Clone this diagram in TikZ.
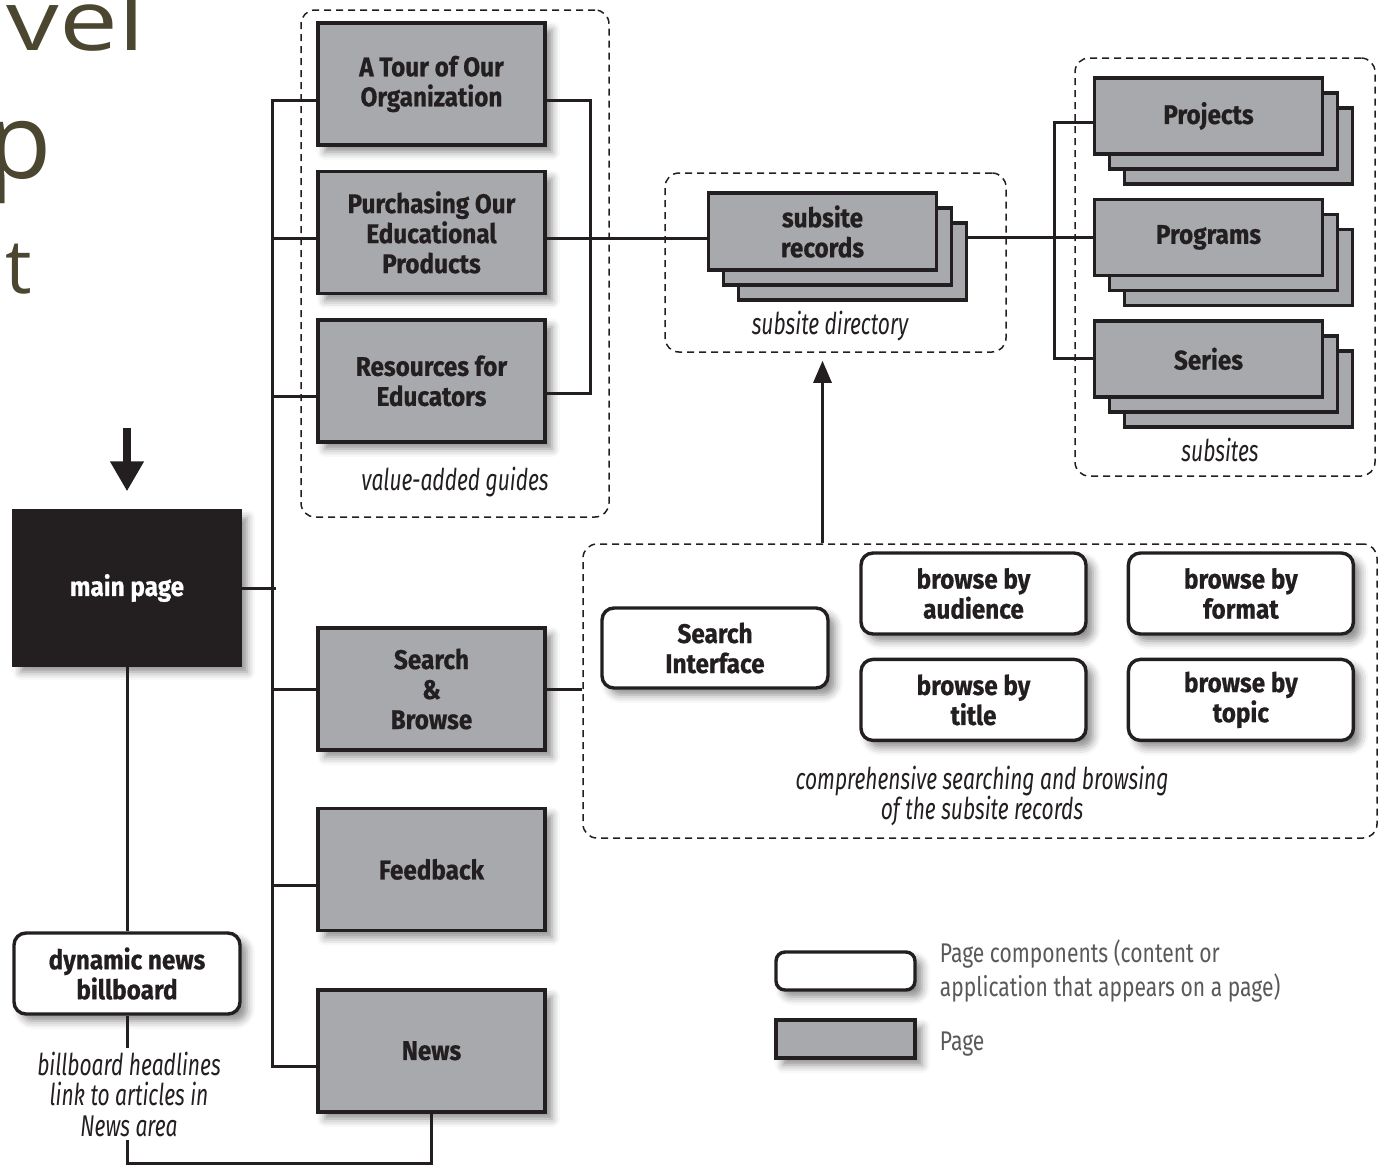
\documentclass[tikz,border=0pt]{standalone}
\usepackage{fontspec}
\setmainfont{Fira Sans}[FakeStretch=0.9,BoldFeatures={FakeBold=0.6}]
\newfontfamily\notefont{Fira Sans}[FakeStretch=0.7]
\newfontfamily\legendfont{Fira Sans}[FakeStretch=0.78]
\newfontfamily\slidefont{Open Sans}
\newfontfamily\slidewidefont{Open Sans}[FakeStretch=1.25]
\usetikzlibrary{positioning,shadows,shadows.blur,arrows.meta}
\definecolor{ink}{HTML}{231F20}
\definecolor{pagegray}{HTML}{A7A9AC}
\definecolor{olive}{HTML}{4B4630}
\definecolor{legendgray}{HTML}{58595B}

\begin{document}
\begin{tikzpicture}[x=1pt,y=-1pt,
  box/.style={draw=ink,line width=3.4pt,align=center,text=ink,
    font=\fontsize{27}{30}\selectfont\bfseries},
  soft/.style={blur shadow={shadow xshift=7pt,shadow yshift=-7pt,
    shadow blur radius=8pt,shadow opacity=45}},
  page/.style={box,soft,fill=pagegray,minimum width=227pt,minimum height=122pt},
  stack/.style={box,fill=pagegray,minimum width=228pt,minimum height=76pt,
    double copy shadow={shadow xshift=15pt,shadow yshift=-15pt}},
  comp/.style={box,soft,fill=white,rounded corners=12pt,
    minimum width=225pt,minimum height=81pt},
  group/.style={draw=ink,line width=1.5pt,dash pattern=on 7pt off 5pt,
    rounded corners=14pt},
  note/.style={font=\notefont\itshape\fontsize{30}{30.5}\selectfont,
    text=ink,align=center},
  link/.style={draw=ink,line width=3pt},
  legend text/.style={font=\legendfont\fontsize{27}{34}\selectfont,text=legendgray,
    align=left,inner sep=0pt},
  title bit/.style={text=olive,inner sep=0pt,anchor=base east}]

  \useasboundingbox (0,0) rectangle (1383,1171);
  \clip (0,0) rectangle (1383,1171);

  % leftovers of the slide title
  \node[title bit,font=\slidewidefont\fontsize{84}{84}\selectfont] (ttl1) at (145,50) {vel};
  \node[title bit,font=\slidefont\fontsize{105}{105}\selectfont] (ttl2) at (52,178) {p};
  \node[title bit,font=\slidefont\fontsize{75}{75}\selectfont] (ttl3) at (32,293) {t};

  % dashed groups
  \node[group,minimum width=308pt,minimum height=507pt] (guides) at (455,263.5) {};
  \node[group,minimum width=341pt,minimum height=179pt] (dirbox) at (835.5,262.5) {};
  \node[group,minimum width=300pt,minimum height=418pt] (sitebox) at (1225,267) {};
  \node[group,minimum width=794pt,minimum height=294pt] (compbox) at (980,691) {};

  % main page and billboard
  \node[box,soft,fill=ink,text=white,minimum width=226pt,minimum height=154pt]
    (main) at (127,588) {main page};
  \node[comp,minimum width=226pt] (billboard) at (127,973.5) {dynamic news\\billboard};
  \node[note] (headlines) at (129,1094) {billboard headlines\\link to articles in\\News area};
  \coordinate (entry) at (127,428);

  % pages
  \node[page] (tour) at (431.5,84) {A Tour of Our\\Organization};
  \node[page] (purch) [below=23pt of tour] {Purchasing Our\\Educational\\Products};
  \node[page] (res) [below=23pt of purch] {Resources for\\Educators};
  \node[note] at (455,482) {value-added guides};
  \node[page] (search) at (431.5,689) {Search\\\&\\Browse};
  \node[page] (feedback) [below=55pt of search] {Feedback};
  \node[page] (news) [below=56pt of feedback] {News};

  % subsite directory
  \node[stack,minimum height=77pt] (records) at (822.5,231.5) {subsite\\records};
  \node[note] at (830,326) {subsite directory};

  % subsites
  \node[stack] (projects) at (1208.5,116) {Projects};
  \node[stack] (programs) [below=42pt of projects] {Programs};
  \node[stack] (series) [below=42pt of programs] {Series};
  \node[note] at (1220,450) {subsites};

  % search and browse components
  \node[comp,minimum width=226pt,minimum height=80pt] (searchif) at (715,648) {Search\\Interface};
  \node[comp] (audience) at (973.5,593.5) {browse by\\audience};
  \node[comp] (format) [right=39pt of audience] {browse by\\format};
  \node[comp] (title) [below=22pt of audience] {browse by\\title};
  \node[comp] (topic) [right=39pt of title] {browse by\\topic};
  \node[note] at (982,796) {comprehensive searching and browsing\\of the subsite records};

  % legend
  \node[comp,rounded corners=9pt,minimum width=139pt,minimum height=38pt] (legcomp) at (845.5,971) {};
  \node[page,minimum width=139pt,minimum height=38pt] (legpage) at (845.5,1039) {};
  \node[legend text,right=23pt of legcomp] {Page components (content or\\application that appears on a page)};
  \node[legend text,right=23pt of legpage,yshift=-5pt] {Page};

  % connectors
  \draw[ink,line width=8pt,-{Triangle[width=32pt,length=30pt]},shorten >=18pt] (entry) -- (main.north);
  \draw[link] (main.east) -- ++(34pt,0);
  \draw[link] ([yshift=-16pt]tour.west) -- ++(-44pt,0) |- ([yshift=-16pt]news.west);
  \draw[link] ([yshift=-6pt]purch.west) -- ++(-44pt,0);
  \draw[link] ([yshift=-16pt]res.west) -- ++(-44pt,0);
  \draw[link] (search.west) -- ++(-44pt,0);
  \draw[link] ([yshift=-16pt]feedback.west) -- ++(-44pt,0);
  \draw[link] ([yshift=-16pt]tour.east) -- ++(44pt,0) |- ([yshift=-13pt]res.east);
  \draw[link] ([yshift=-6pt]purch.east) -- ([yshift=-6pt]purch.east -| records.west);
  \draw[link] ([xshift=30pt,yshift=-6pt]records.east) -- ([yshift=-6pt]records.east -| programs.west);
  \draw[link] ([yshift=-6pt]projects.west) -- ++(-38pt,0) |- (series.west);
  \draw[link] (search.east) -- (search.east -| compbox.west);
  \draw[link,-{Triangle[width=18pt,length=22pt]},shorten >=8pt] (compbox.north -| records) -- (dirbox.south -| records);
  \draw[link] (main.south) -- (billboard.north);
  \draw[link] (billboard.south) -- (billboard.south |- headlines.north);
  \draw[link] (headlines.south -| billboard) -- ++(0,-24pt) -| (news.south);
\end{tikzpicture}
\end{document}
